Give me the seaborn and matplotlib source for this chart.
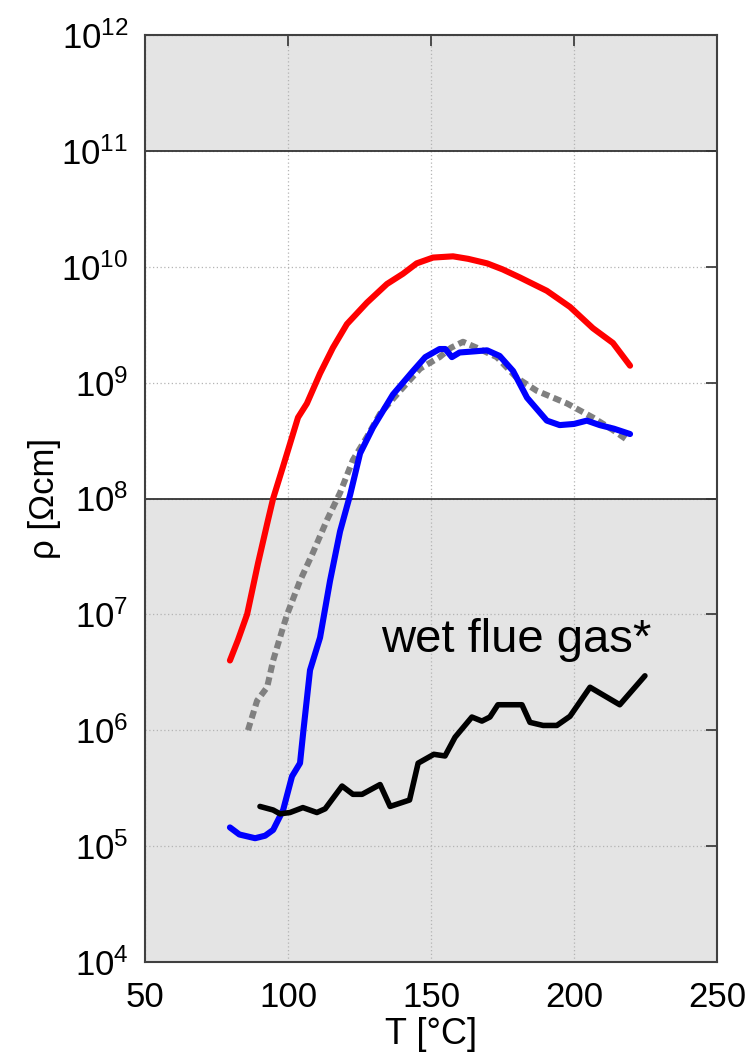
import math
import matplotlib
matplotlib.use("Agg")
import matplotlib.pyplot as plt
import seaborn as sns
from matplotlib.ticker import FixedLocator, FuncFormatter, NullLocator

# Temperature (degC) and resistivity (Ohm cm) for each series
red_T = [79.7, 82.5, 85.7, 89.5, 93.0, 94.8, 98.3, 103.5, 106.6, 111.2, 115.7,
         120.6, 127.6, 134.6, 140.2, 145.0, 150.7, 157.7, 163.0, 169.6, 175.0,
         181.0, 190.5, 198.6, 206.6, 213.6, 219.6]
red_rho = [4.0e6, 6.0e6, 1.0e7, 2.75e7, 6.5e7, 1.0e8, 1.9e8, 5.0e8, 6.6e8, 1.2e9,
           2.0e9, 3.2e9, 4.9e9, 7.1e9, 8.7e9, 1.07e10, 1.2e10, 1.23e10, 1.17e10,
           1.07e10, 9.5e9, 8.1e9, 6.2e9, 4.5e9, 2.95e9, 2.2e9, 1.4e9]

blue_T = [79.7, 83.0, 88.5, 92.0, 94.8, 98.3, 101.4, 104.2, 105.4, 107.7, 111.2,
          114.7, 118.2, 121.7, 125.2, 129.7, 136.7, 143.7, 148.0, 153.0, 155.0,
          157.3, 160.0, 165.0, 169.6, 174.0, 178.7, 183.6, 190.5, 195.0, 200.0,
          204.5, 209.0, 214.0, 219.6]
blue_rho = [1.45e5, 1.26e5, 1.17e5, 1.23e5, 1.38e5, 2.05e5, 4.0e5, 5.2e5, 1.0e6,
            3.3e6, 6.3e6, 1.95e7, 5.2e7, 1.07e8, 2.45e8, 4.1e8, 7.9e8, 1.26e9,
            1.66e9, 1.95e9, 1.95e9, 1.66e9, 1.82e9, 1.86e9, 1.9e9, 1.7e9, 1.26e9,
            7.4e8, 4.7e8, 4.3e8, 4.4e8, 4.7e8, 4.3e8, 4.0e8, 3.6e8]

gray_T = [86.0, 89.2, 92.7, 94.8, 97.9, 99.7, 104.2, 108.7, 113.6, 118.2, 122.7,
          127.6, 132.2, 139.2, 146.2, 153.0, 157.0, 161.2, 166.0, 173.0, 180.0,
          187.0, 197.6, 206.6, 213.6, 219.0]
gray_rho = [1.0e6, 1.8e6, 2.35e6, 4.0e6, 7.2e6, 1.0e7, 1.95e7, 3.4e7, 6.5e7,
            1.12e8, 2.15e8, 3.4e8, 5.4e8, 8.5e8, 1.32e9, 1.66e9, 2.0e9, 2.25e9,
            2.0e9, 1.66e9, 1.1e9, 8.5e8, 6.6e8, 5.0e8, 3.9e8, 3.15e8]

black_T = [90.2, 94.8, 97.2, 100.7, 105.2, 110.1, 113.0, 118.9, 122.7, 125.9,
           132.2, 135.7, 142.5, 145.5, 151.0, 154.9, 158.4, 164.3, 167.8, 170.6,
           173.4, 181.8, 184.6, 189.2, 194.0, 198.6, 205.6, 216.0, 224.8]
black_rho = [2.2e5, 2.05e5, 1.9e5, 1.95e5, 2.15e5, 1.95e5, 2.1e5, 3.3e5, 2.8e5,
             2.8e5, 3.4e5, 2.2e5, 2.5e5, 5.2e5, 6.2e5, 6.0e5, 8.7e5, 1.3e6,
             1.2e6, 1.3e6, 1.66e6, 1.66e6, 1.17e6, 1.1e6, 1.1e6, 1.32e6, 2.35e6,
             1.66e6, 2.95e6]

x_ticks = [50, 100, 150, 200, 250]
y_exponents = [4, 5, 6, 7, 8, 9, 10, 11, 12]
band_limits = [1e8, 1e11]
annotation = "wet flue gas*"
x_label = "T [°C]"
y_label = "ρ [Ωcm]"

sns.set_style("white")
plt.rcParams["font.family"] = ["Liberation Sans", "DejaVu Sans"]
plt.rcParams["mathtext.fontset"] = "custom"
plt.rcParams["mathtext.rm"] = "Liberation Sans"
plt.rcParams["mathtext.it"] = "Liberation Sans:italic"
plt.rcParams["mathtext.bf"] = "Liberation Sans:bold"
for key in ("text.color", "axes.labelcolor", "xtick.labelcolor", "ytick.labelcolor"):
    plt.rcParams[key] = "black"

fig = plt.figure(figsize=(7.56, 10.55), dpi=100)
ax = fig.add_axes([145 / 756, 1 - 962 / 1055, (717 - 145) / 756, (962 - 35) / 1055])
ax.set_yscale("log")
ax.set_xlim(x_ticks[0], x_ticks[-1])
ax.set_ylim(10.0 ** y_exponents[0], 10.0 ** y_exponents[-1])

# shaded regions outside the band and the band borders
ax.axhspan(band_limits[1], 10.0 ** y_exponents[-1], color="#e4e4e4", zorder=0, lw=0)
ax.axhspan(10.0 ** y_exponents[0], band_limits[0], color="#e4e4e4", zorder=0, lw=0)
for b in band_limits:
    ax.axhline(b, color="#333333", lw=1.3, zorder=1)

# dotted grid
ax.grid(True, which="major", color="#b4b4b4", linestyle=(0, (1, 2)), lw=0.9, zorder=0.5)
ax.set_axisbelow(True)

line_kw = dict(ax=ax, estimator=None, sort=False, legend=False)
sns.lineplot(x=red_T, y=red_rho, color="#ff0000", lw=4.4, zorder=3, **line_kw)
sns.lineplot(x=gray_T, y=gray_rho, color="#808080", lw=4.4, zorder=3,
             linestyle=(0, (1.3, 0.75)), dash_capstyle="butt", **line_kw)
sns.lineplot(x=blue_T, y=blue_rho, color="#0000ff", lw=4.4, zorder=4, **line_kw)
sns.lineplot(x=black_T, y=black_rho, color="#000000", lw=4.0, zorder=4, **line_kw)

ax.text(132.5, 4.7e6, annotation, fontsize=34, ha="left", va="baseline", zorder=5)

ax.xaxis.set_major_locator(FixedLocator(x_ticks))
ax.yaxis.set_major_locator(FixedLocator([10.0 ** e for e in y_exponents]))
ax.yaxis.set_minor_locator(NullLocator())
ax.yaxis.set_major_formatter(FuncFormatter(
    lambda v, p: r"$\mathregular{10^{%d}}$" % round(math.log10(v))))
ax.tick_params(axis="both", direction="in", length=8, width=1.3, color="#404040",
               labelsize=25, top=True, right=True)
ax.tick_params(axis="x", pad=14)
ax.tick_params(axis="y", pad=12)

for s in ax.spines.values():
    s.set_color("#404040")
    s.set_linewidth(1.5)
    s.set_zorder(6)

ax.set_xlabel(x_label, fontsize=26, labelpad=2)
ax.set_ylabel(y_label, fontsize=25, labelpad=0)

fig.savefig("out.png", dpi=100)
